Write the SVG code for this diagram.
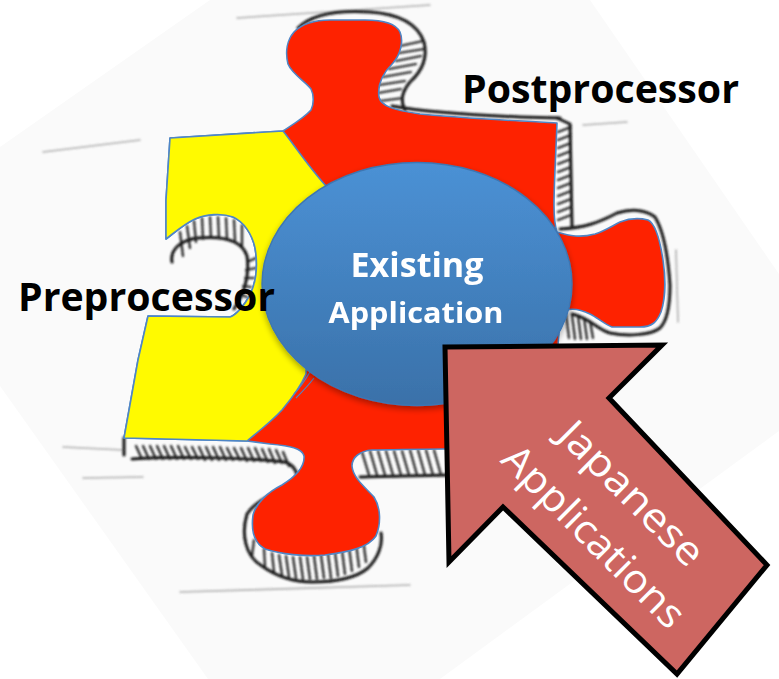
<svg xmlns="http://www.w3.org/2000/svg" width="779" height="679" viewBox="0 0 779 679">
  <defs>
    <style>
      .sheet { fill: #fafafa; }
      .pencil { fill: none; stroke: #151515; stroke-width: 3; stroke-linecap: round; stroke-linejoin: round; }
      .pencil-soft { fill: none; stroke: #555; stroke-width: 1.6; stroke-linecap: round; opacity: 0.45; }
      .hatch { fill: none; stroke: #1e1e1e; stroke-width: 2.2; stroke-linecap: round; }
      .face { stroke: #4f86c6; stroke-width: 1.6; stroke-linejoin: round; }
      .red { fill: #fe2200; }
      .yellow { fill: #fffa00; }
      .label { font-family: "Open Sans", "Liberation Sans", sans-serif; font-weight: 700; fill: #000; }
      .core { font-family: "Open Sans", "Liberation Sans", sans-serif; font-weight: 700; fill: #fff; text-anchor: middle; }
      .arrow-text { font-family: "Open Sans", "Liberation Sans", sans-serif; font-weight: 400; fill: #fff; text-anchor: middle; font-size: 40px; }
    </style>
    <linearGradient id="coreFill" x1="0" y1="0" x2="0" y2="1">
      <stop offset="0" stop-color="#4b91d5"/>
      <stop offset="1" stop-color="#3a71a9"/>
    </linearGradient>
    <filter id="smudge" x="-5%" y="-5%" width="110%" height="110%">
      <feGaussianBlur stdDeviation="0.8"/>
    </filter>
    <filter id="lift" x="-10%" y="-10%" width="120%" height="125%">
      <feGaussianBlur in="SourceAlpha" stdDeviation="3"/>
      <feOffset dy="3"/>
      <feComponentTransfer><feFuncA type="linear" slope="0.35"/></feComponentTransfer>
      <feMerge><feMergeNode/><feMergeNode in="SourceGraphic"/></feMerge>
    </filter>
  </defs>

  <rect width="779" height="679" fill="#fff"/>
  <!-- rotated paper sheet behind the sketch -->
  <polygon class="sheet" points="0,147 210,0 590,0 779,274 779,431 440,679 208,679 0,386"/>

  <!-- pencil sketch of the puzzle piece: stray lines, sides and hatching -->
  <g id="sketch" filter="url(#smudge)">
    <path class="pencil-soft" d="M237,18 L430,5 M43,152 L140,140 M63,447 L123,450 M83,478 L143,477 M180,592 L410,585 M583,125 L627,122 M676,250 L678,322"/>
    <!-- top knob side -->
    <path class="pencil" d="M298,28 C312,14 340,10 370,12 C400,14 418,25 424,42 C428,58 421,72 410,82 C402,92 400,100 405,110"/>
    <path class="hatch" d="M400,46 L423,41 M399,53 L424,49 M396,61 L421,56 M389,69 L416,64 M383,77 L411,72 M379,85 L405,81 M378,93 L401,89 M380,101 L403,98"/>
    <path class="pencil" d="M392,106 C420,111 470,115 520,117 L560,118"/>
    <!-- right upper side -->
    <path class="pencil" d="M557,118 L570,124 L572,226"/>
    <path class="hatch" d="M558,132 L571,127 M558,140 L571,135 M558,148 L571,143 M558,156 L571,151 M558,164 L571,159 M558,172 L571,167 M558,180 L571,175 M558,188 L571,183 M558,196 L571,191 M558,204 L571,199 M558,212 L571,207 M558,220 L571,215"/>
    <!-- right knob side -->
    <path class="pencil" d="M560,229 C585,228 600,222 617,213 C630,209 645,209 655,217 C663,230 668,255 670,285 C670,305 668,320 660,328 C650,336 625,336 610,333 C598,330 590,318 572,314"/>
    <path class="hatch" d="M566,314 L569,338 M572,315 L575,339 M578,316 L581,339 M584,318 L587,339 M590,321 L593,338"/>
    <!-- left socket walls -->
    <path class="pencil" d="M172,262 C170,250 180,240 198,238 C222,236 242,240 247,256 C250,276 244,294 234,309"/>
    <path class="hatch" d="M180,232 L183,256 M187,226 L190,248 M194,221 L196,242 M202,218 L203,239 M210,217 L211,238 M218,217 L219,238 M226,218 L227,238 M234,220 L235,240 M242,225 L242,246 M247,262 L256,258 M246,270 L256,268 M245,278 L254,278 M243,286 L251,287 M239,294 L247,297"/>
    <!-- bottom left side -->
    <path class="pencil" d="M124,438 L124,455 M132,459 C180,456 250,458 285,462 C296,466 300,476 294,483 C278,492 256,500 247,514 C241,534 245,556 262,566 C276,576 292,582 312,582 C336,582 356,578 368,568 C378,558 383,545 381,533"/>
    <path class="hatch" d="M136,446 L142,459 M143,446 L149,459 M150,446 L156,459 M157,446 L163,459 M164,446 L170,459 M171,446 L177,459 M178,446 L184,459 M185,447 L191,459 M192,447 L198,459 M199,447 L205,460 M206,447 L212,460 M213,447 L219,460 M220,447 L226,460 M227,448 L233,460 M234,448 L240,460 M241,448 L247,461 M248,448 L254,461 M255,448 L261,461 M262,449 L268,462 M269,449 L275,463 M276,450 L282,463 M283,452 L289,466"/>
    <path class="hatch" d="M254,540 L252,556 M264,549 L265,566 M272,553 L274,572 M279,555 L282,575 M286,556 L289,577 M293,557 L296,578 M300,557 L303,579 M307,557 L310,579 M314,556 L317,579 M321,555 L324,578 M328,554 L331,578 M335,552 L338,576 M342,550 L345,574 M349,547 L352,571 M356,543 L359,567 M363,539 L366,562"/>
    <!-- bottom right side -->
    <path class="pencil" d="M360,477 C380,476 420,476 447,475"/>
    <path class="hatch" d="M362,452 L369,475 M370,451 L377,475 M378,451 L385,475 M386,451 L393,475 M394,451 L401,475 M402,451 L409,475 M410,450 L417,475 M418,450 L425,475 M426,450 L433,475 M434,450 L441,475"/>
  </g>

  <!-- puzzle piece faces -->
  <g id="postprocessor-piece">
    <path class="face red" d="M170,138 L283,131 C292,125 304,118 311,110 C314,104 314,95 311,89 C306,82 292,74 288,64 C285,52 287,40 294,32 C302,24 315,20 330,20 L365,20 C380,20 395,22 400,32 C404,42 400,55 393,63 C384,72 377,84 379,97 C381,106 393,110 420,114 C460,118 500,120 557,123 C556,150 554,185 554,205 C554,218 555,226 557,232 C570,236 580,238 595,234 C605,231 612,226 620,222 C630,218 640,218 648,220 C656,224 660,240 663,260 C666,280 665,300 661,312 C657,322 652,327 640,327 L612,327 C604,324 598,318 590,314 C582,310 574,308 566,310 C561,315 559,330 558,345 L550,449 L443,449 C420,449 390,450 372,450 C360,451 352,457 352,466 C353,478 365,487 374,497 C381,508 381,524 376,536 C368,548 348,552 325,555 C305,557 280,554 265,549 C254,543 251,530 253,515 C256,503 268,492 282,485 C295,477 305,467 304,456 C302,448 290,446 270,444 L247,441 L124,438 L138,360 L148,316 L230,317 C236,315 244,306 250,295 C256,282 258,265 255,248 C252,234 244,222 233,217 C222,213 206,214 195,219 C184,224 174,233 166,239 L166,200 Z"/>
  </g>
  <g id="preprocessor-piece">
    <path class="face yellow" d="M170,138 L283,131 C292,142 308,166 326,186 L310,280 L306,374 C300,388 292,398 282,410 C272,421 258,432 247,441 L124,438 L138,360 L148,316 L230,317 C236,315 244,306 250,295 C256,282 258,265 255,248 C252,234 244,222 233,217 C222,213 206,214 195,219 C184,224 174,233 166,239 L166,200 Z"/>
    <path fill="none" stroke="#4f86c6" stroke-width="1.2" d="M310,372 C304,382 300,388 294,394 M314,378 C308,386 302,392 296,398"/>
  </g>

  <g id="existing-application" filter="url(#lift)">
    <ellipse cx="417" cy="284" rx="155" ry="121.5" fill="url(#coreFill)" stroke="#3d76b3" stroke-width="1.4"/>
    <text class="core" x="417" y="277" font-size="34" textLength="133" lengthAdjust="spacingAndGlyphs">Existing</text>
    <text class="core" x="416" y="323" font-size="29" textLength="175" lengthAdjust="spacingAndGlyphs">Application</text>
  </g>

  <g id="labels">
    <text id="postprocessor" class="label" x="462" y="103" font-size="39" textLength="277" lengthAdjust="spacingAndGlyphs">Postprocessor</text>
    <text id="preprocessor" class="label" x="18" y="311" font-size="39" textLength="257" lengthAdjust="spacingAndGlyphs">Preprocessor</text>
  </g>

  <!-- connectors: the incoming block arrow -->
  <g id="connectors">
    <g id="japanese-applications">
      <polygon points="445,347 662,345 609,398 767,565 677,674 503,507 449,562" fill="#cd6661" stroke="#000" stroke-width="5" stroke-linejoin="miter"/>
      <text class="arrow-text" transform="translate(622,503) rotate(45)" x="0" y="0" textLength="187" lengthAdjust="spacingAndGlyphs">Japanese</text>
      <text class="arrow-text" transform="translate(584,546) rotate(45)" x="0" y="0" textLength="240" lengthAdjust="spacingAndGlyphs">Applications</text>
    </g>
  </g>
</svg>
